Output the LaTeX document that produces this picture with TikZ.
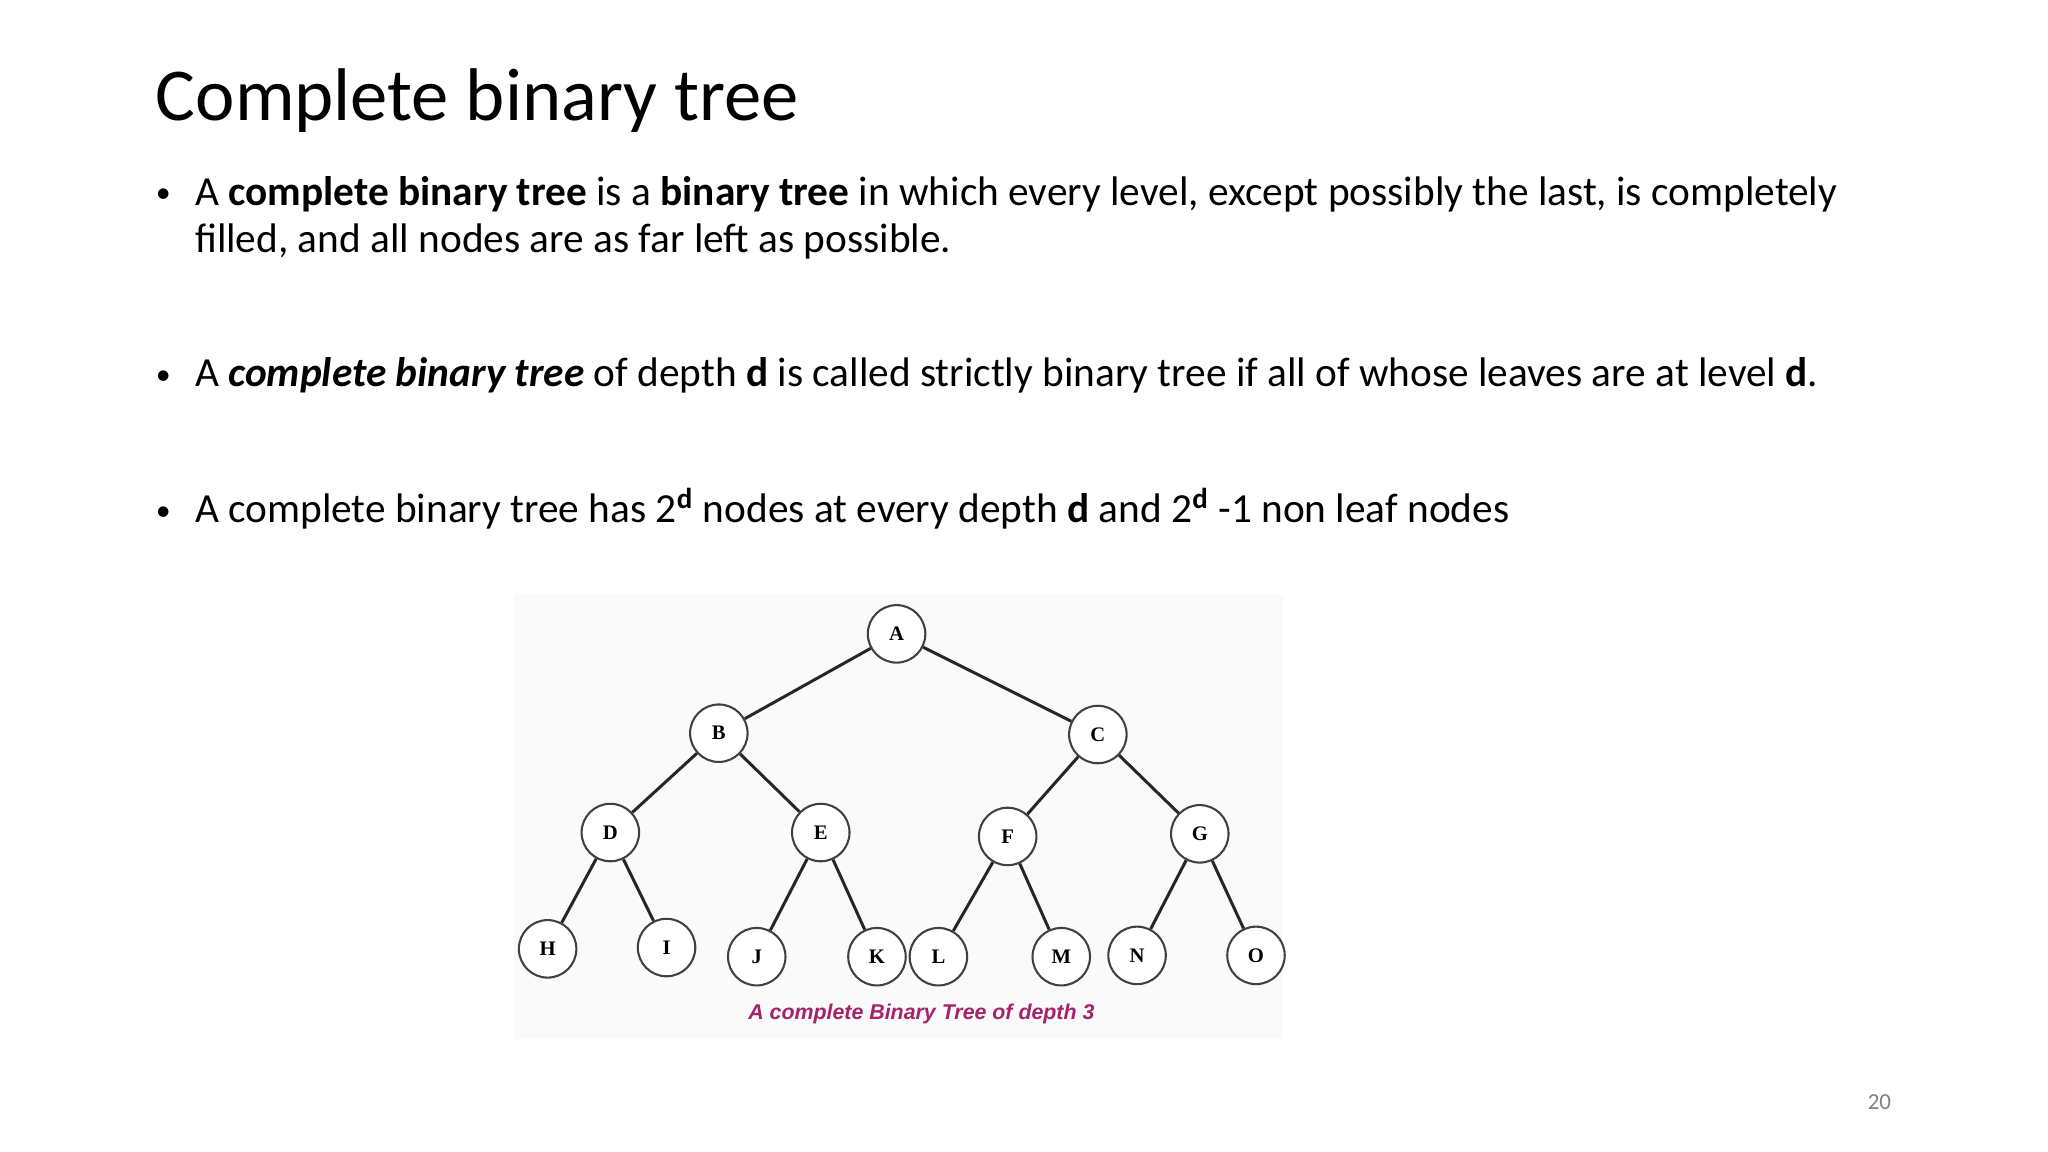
\documentclass[tikz,border=0pt]{standalone}
\usepackage{fontspec}
\setmainfont{Carlito}
\newfontfamily\treefont{Liberation Serif}
\newfontfamily\capfont{Liberation Sans}
\definecolor{capcol}{RGB}{165,35,105}
\begin{document}
\begin{tikzpicture}[x=0.02cm,y=-0.02cm,
  tn/.style={circle,draw=black!75,line width=0.9pt,fill=white,minimum size=0.88cm,inner sep=0pt,font=\treefont\bfseries\fontsize{9}{10}\selectfont},
  edge/.style={line width=1.3pt,black!85},
  txt/.style={anchor=base west,inner sep=0pt,font=\fontsize{18}{21}\selectfont},
  bul/.style={anchor=base west,inner sep=0pt,font=\fontsize{13}{16}\selectfont}]
\useasboundingbox (0,0) rectangle (1567,881);
\node[anchor=base west,inner sep=0pt,font=\fontsize{32.5}{38}\selectfont] (title) at (119,92) {Complete binary tree};
\node[bul] (b1) at (119,155) {•};
\node[txt] (l1) at (149,157) {A \textbf{complete binary tree} is a \textbf{binary tree} in which every level, except possibly the last, is completely};
\node[txt] (l2) at (149,193) {filled, and all nodes are as far left as possible.};
\node[bul] (b2) at (119,294) {•};
\node[txt] (l3) at (149,296) {A \textbf{\itshape complete binary tree} of depth \textbf{d} is called strictly binary tree if all of whose leaves are at level \textbf{d}.};
\node[bul] (b3) at (119,398) {•};
\node[txt] (l4) at (149,400) {A complete binary tree has 2\textsuperscript{\textbf{d}} nodes at every depth \textbf{d} and 2\textsuperscript{\textbf{d}} -1 non leaf nodes};
\fill[black!2] (393,455) rectangle (982,795);
\node[tn] (A) at (686,485) {A};
\node[tn] (B) at (550,561) {B};
\node[tn] (C) at (840,562) {C};
\node[tn] (D) at (467,637) {D};
\node[tn] (E) at (628,637) {E};
\node[tn] (F) at (771,640) {F};
\node[tn] (G) at (918,638) {G};
\node[tn] (H) at (419,726) {H};
\node[tn] (I) at (510,725) {I};
\node[tn] (J) at (579,732) {J};
\node[tn] (K) at (671,732) {K};
\node[tn] (L) at (718,732) {L};
\node[tn] (M) at (812,732) {M};
\node[tn] (N) at (870,731) {N};
\node[tn] (O) at (961,731) {O};
\foreach \p/\c in {A/B,A/C,B/D,B/E,C/F,C/G,D/H,D/I,E/J,E/K,F/L,F/M,G/N,G/O}
  \draw[edge] (\p) -- (\c);
\node[font=\capfont\bfseries\itshape\fontsize{9.3}{10}\selectfont,text=capcol] (cap) at (705,776) {A complete Binary Tree of depth 3};
\node[font=\fontsize{10}{11}\selectfont,text=black!50] (pg) at (1438,843) {20};
\end{tikzpicture}
\end{document}
